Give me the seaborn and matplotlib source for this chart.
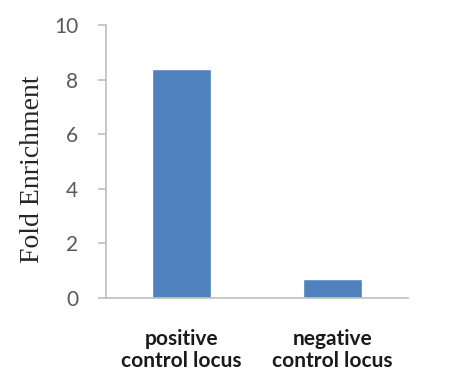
import matplotlib
matplotlib.use("Agg")
import matplotlib.pyplot as plt
import seaborn as sns
import pandas as pd

# Data
loci = ["positive\ncontrol locus", "negative\ncontrol locus"]
fold_enrichment = [8.4, 0.7]
y_ticks = [0, 2, 4, 6, 8, 10]

df = pd.DataFrame({"locus": loci, "fold": fold_enrichment})

sns.set_style("white")
plt.rcParams["font.family"] = ["Lato", "DejaVu Sans"]

fig = plt.figure(figsize=(4.65, 3.72), dpi=100)
ax = fig.add_axes([106 / 465, 1 - 298 / 372, 302 / 465, 273 / 372])

sns.barplot(data=df, x="locus", y="fold", color="#4F81BD", width=0.39,
            saturation=1, ax=ax)

ax.set_ylim(0, 10)
ax.set_xlim(-0.5, 1.5)
ax.set_yticks(y_ticks)
ax.set_yticklabels([str(t) for t in y_ticks], fontsize=15, color="#595959")

# axis styling like Excel
for side in ["top", "right"]:
    ax.spines[side].set_visible(False)
for side in ["left", "bottom"]:
    ax.spines[side].set_color("#BFBFBF")
    ax.spines[side].set_linewidth(1.2)
ax.tick_params(axis="y", length=6, width=1.2, color="#BFBFBF", pad=14, left=True)
ax.tick_params(axis="x", length=0, pad=22)
for lbl in ax.get_xticklabels():
    lbl.set_fontsize(15)
    lbl.set_fontweight("bold")
    lbl.set_color("#1a1a1a")
    lbl.set_linespacing(1.15)

ax.set_xlabel("")
ax.set_ylabel("Fold Enrichment", family=["Liberation Serif"], fontsize=20,
              color="#262626")
ax.yaxis.set_label_coords(-0.203, 0.47)

fig.savefig("out.png", dpi=100)
